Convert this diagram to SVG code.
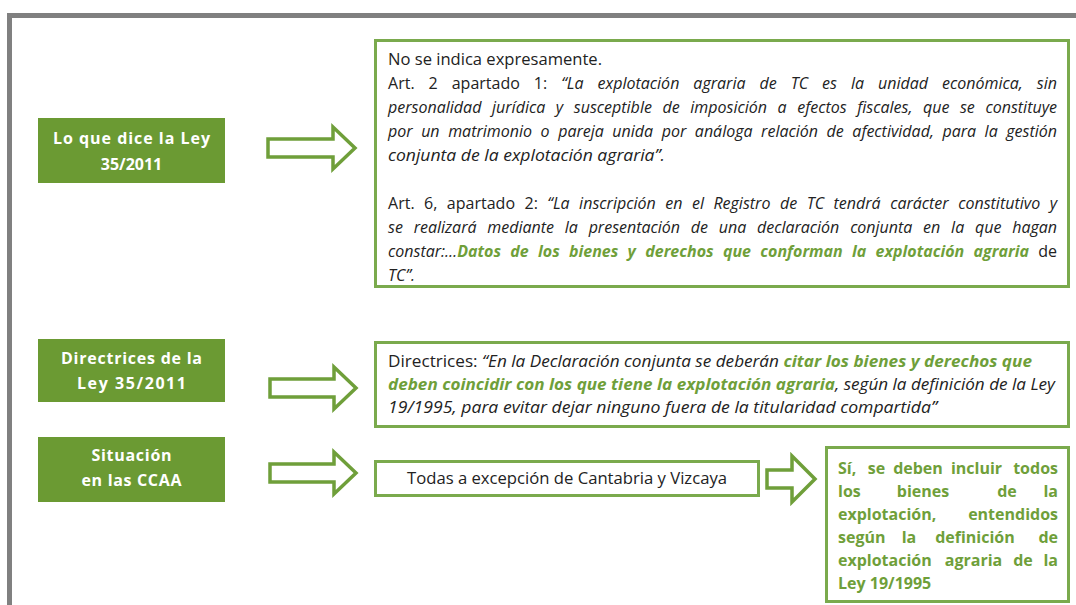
<svg xmlns="http://www.w3.org/2000/svg" width="1076" height="605" viewBox="0 0 1076 605">
<style>
.t{font-family:"Open Sans","Liberation Sans",sans-serif;font-size:16px;fill:#222}
.s{font-size:15.5px}
.i{font-style:italic}
.g{fill:#6f9f3a;font-weight:bold}
.lbl{font-family:"Open Sans","Liberation Sans",sans-serif;fill:#fff;font-weight:bold;font-size:16px;text-anchor:middle}
.box{fill:#fff;stroke:#7aaa4d;stroke-width:3}
.gbox{fill:#6b9a33}
.arr{fill:#fff;stroke:#6f9f3a;stroke-width:3.5;stroke-linejoin:miter}
.w{font-family:"Open Sans","Liberation Sans",sans-serif;font-size:16px;font-weight:bold;fill:#6f9f3a}
.m{text-anchor:middle}
.e{text-anchor:end}
</style>
<rect width="1076" height="605" fill="#fff"/>
<path d="M9.5 605 V15.5 H1076" fill="none" stroke="#808080" stroke-width="5"/>

<g id="n-ley">
<rect class="gbox" x="38" y="118" width="187" height="65"/>
<text class="lbl" x="131.5" y="144" textLength="157" lengthAdjust="spacing">Lo que dice la Ley</text>
<text class="lbl" x="131.5" y="170">35/2011</text>
</g>
<g id="n-directrices">
<rect class="gbox" x="38" y="339" width="187" height="63"/>
<text class="lbl" x="131.5" y="364" textLength="141" lengthAdjust="spacing">Directrices de la</text>
<text class="lbl" x="131.5" y="389" textLength="109" lengthAdjust="spacing">Ley 35/2011</text>
</g>
<g id="n-situacion">
<rect class="gbox" x="38" y="437" width="187" height="65"/>
<text class="lbl" x="131.5" y="461" textLength="80" lengthAdjust="spacing">Situación</text>
<text class="lbl" x="131.5" y="486" textLength="100" lengthAdjust="spacing">en las CCAA</text>
</g>

<g id="n-texto-ley">
<rect class="box" x="375.5" y="40.5" width="693" height="246"/>
<text class="t" x="388" y="65" textLength="214" lengthAdjust="spacingAndGlyphs">No se indica expresamente.</text>
<text class="t" x="388" y="89" word-spacing="9.8" textLength="669" lengthAdjust="spacing">Art. 2 apartado 1: <tspan class="i">“La explotación agraria de TC es la unidad económica, sin</tspan></text>
<text class="t i" x="388" y="113" word-spacing="6.4" textLength="669" lengthAdjust="spacing">personalidad jurídica y susceptible de imposición a efectos fiscales, que se constituye</text>
<text class="t i" x="388" y="137" word-spacing="4.4" textLength="669" lengthAdjust="spacing">por un matrimonio o pareja unida por análoga relación de afectividad, para la gestión</text>
<text class="t i" x="388" y="161" textLength="277" lengthAdjust="spacingAndGlyphs">conjunta de la explotación agraria”.</text>
<text class="t" x="388" y="209" word-spacing="5.3" textLength="669" lengthAdjust="spacing">Art. 6, apartado 2: <tspan class="i">“La inscripción en el Registro de TC tendrá carácter constitutivo y</tspan></text>
<text class="t i" x="388" y="233" word-spacing="6.7" textLength="669" lengthAdjust="spacing">se realizará mediante la presentación de una declaración conjunta en la que hagan</text>
<text class="t" x="388" y="257" word-spacing="5.1" textLength="669" lengthAdjust="spacing"><tspan class="i">constar:…</tspan><tspan class="i g">Datos de los bienes y derechos que conforman la explotación agraria</tspan> de</text>
<text class="t i" x="388" y="281" textLength="27" lengthAdjust="spacingAndGlyphs">TC”.</text>
</g>

<g id="n-texto-directrices">
<rect class="box" x="375.5" y="342.5" width="693" height="84"/>
<text class="t s" x="388" y="367" textLength="644" lengthAdjust="spacingAndGlyphs">Directrices: <tspan class="i">“En la Declaración conjunta se deberán </tspan><tspan class="i g">citar los bienes y derechos que</tspan></text>
<text class="t s" x="388" y="390" textLength="667" lengthAdjust="spacingAndGlyphs"><tspan class="i g">deben coincidir con los que tiene la explotación agraria</tspan><tspan class="i">, según la definición de la Ley</tspan></text>
<text class="t s i" x="388" y="413" textLength="549" lengthAdjust="spacingAndGlyphs">19/1995, para evitar dejar ninguno fuera de la titularidad compartida”</text>
</g>

<g id="n-todas">
<rect class="box" x="375.5" y="461.5" width="383" height="34"/>
<text class="t" x="407" y="484" textLength="320" lengthAdjust="spacingAndGlyphs">Todas a excepción de Cantabria y Vizcaya</text>
</g>

<g id="n-si" class="w">
<rect class="box" x="826.5" y="447.5" width="242" height="154"/>
<text x="838" y="474">Sí,</text>
<text x="876.5" y="474" class="m">se</text>
<text x="918" y="474" class="m">deben</text>
<text x="976.5" y="474" class="m">incluir</text>
<text x="1058" y="474" class="e">todos</text>
<text x="838" y="497">los</text>
<text x="923" y="497" class="m">bienes</text>
<text x="1007" y="497" class="m">de</text>
<text x="1058" y="497" class="e">la</text>
<text x="838" y="520">explotación,</text>
<text x="1058" y="520" class="e">entendidos</text>
<text x="838" y="543">según</text>
<text x="909" y="543" class="m">la</text>
<text x="975" y="543" class="m">definición</text>
<text x="1058" y="543" class="e">de</text>
<text x="838" y="566">explotación</text>
<text x="973.5" y="566" class="m">agraria</text>
<text x="1023" y="566" class="m">de</text>
<text x="1058" y="566" class="e">la</text>
<text x="838" y="589">Ley 19/1995</text>
</g>

<g id="connectors">
<polygon class="arr" points="268,139 333,139 333,127 355,148 333,169 333,157 268,157"/>
<polygon class="arr" points="270,379 334,379 334,367 356,388 334,409 334,397 270,397"/>
<polygon class="arr" points="270,464 334,464 334,452 356,473 334,494 334,482 270,482"/>
<polygon class="arr" points="767,470 792,470 792,456 815,479 792,502 792,488 767,488"/>
</g>
</svg>
